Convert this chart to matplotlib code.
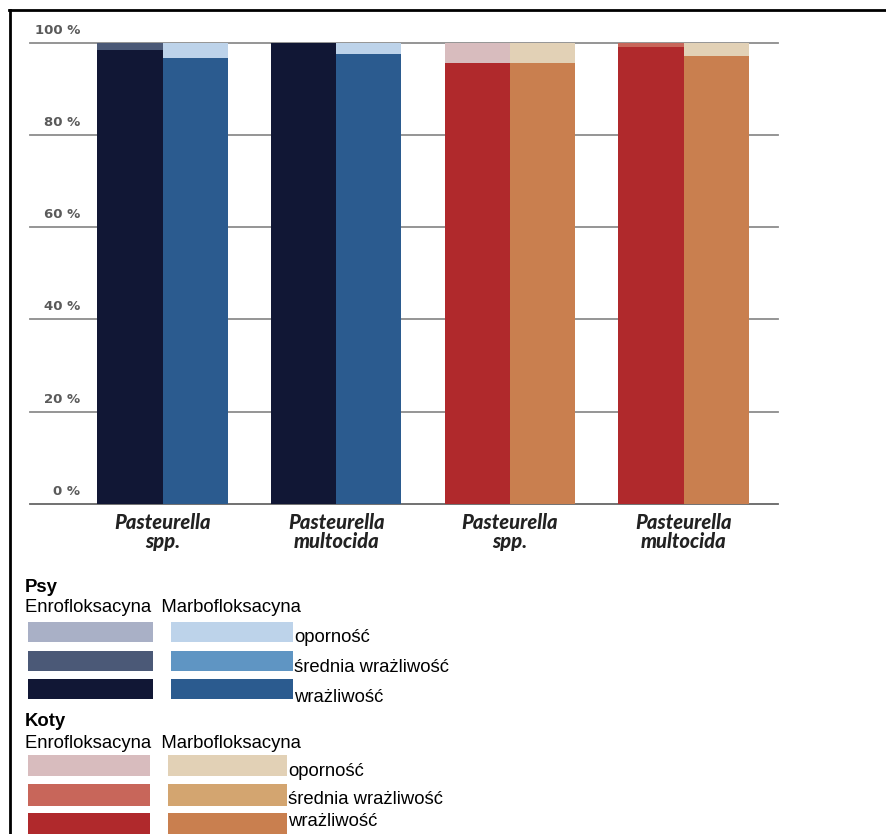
import matplotlib
matplotlib.use("Agg")
import matplotlib.pyplot as plt
from matplotlib.patches import Rectangle
from matplotlib.lines import Line2D

W, H = 887, 834

# --- data -------------------------------------------------------------
groups = ["Pasteurella\nspp.", "Pasteurella\nmultocida",
          "Pasteurella\nspp.", "Pasteurella\nmultocida"]
group_species = ["Psy", "Psy", "Koty", "Koty"]

drugs = ["Enrofloksacyna", "Marbofloksacyna"]
categories = ["oporność", "średnia wrażliwość", "wrażliwość"]

# share of isolates (%) per group
enro_susceptible = [98.4, 100.0, 95.6, 99.0]
enro_intermediate = [1.6, 0.0, 0.0, 1.0]
enro_resistant = [0.0, 0.0, 4.4, 0.0]

marbo_susceptible = [96.6, 97.5, 95.6, 97.0]
marbo_intermediate = [0.0, 0.0, 0.0, 0.0]
marbo_resistant = [3.4, 2.5, 4.4, 3.0]

yticks = [0, 20, 40, 60, 80, 100]

# colours: species -> drug -> (resistant, intermediate, susceptible)
palette = {
    "Psy": {
        "Enrofloksacyna": ["#a9b0c6", "#4b5977", "#111735"],
        "Marbofloksacyna": ["#bdd3ea", "#5f95c3", "#2b5b8f"],
    },
    "Koty": {
        "Enrofloksacyna": ["#d8bcbe", "#c8665a", "#b0292c"],
        "Marbofloksacyna": ["#e2d1b6", "#d3a570", "#c97f4f"],
    },
}

values = {
    "Enrofloksacyna": (enro_resistant, enro_intermediate, enro_susceptible),
    "Marbofloksacyna": (marbo_resistant, marbo_intermediate, marbo_susceptible),
}

# --- figure -----------------------------------------------------------
fig = plt.figure(figsize=(W / 100, H / 100), dpi=100)


def fx(px):
    return px / W


def fy(py):
    return 1 - py / H


ax = fig.add_axes([fx(30), fy(504), fx(778) - fx(30), fy(42.5) - fy(504)])
ax.set_xlim(-0.763, 3.544)
ax.set_ylim(0, 100)
ax.axis("off")

bar_w = 0.375
for gi, sp in enumerate(group_species):
    for di, drug in enumerate(drugs):
        x = gi + (di - 0.5) * bar_w
        res, inter, susc = values[drug]
        cols = palette[sp][drug]
        bottom = 0.0
        for val, col in ((susc[gi], cols[2]), (inter[gi], cols[1]), (res[gi], cols[0])):
            if val > 0:
                ax.bar(x, val, bottom=bottom, width=bar_w, color=col,
                       edgecolor="none", zorder=2)
            bottom += val

# grid lines and tick labels
for v in yticks:
    ax.axhline(v, color="#666666" if v == 0 else "#8c8c8c",
               lw=1.3, zorder=1, clip_on=False)
    ax.annotate(f"{v} %", xy=(fx(80), v),
                xycoords=(fig.transFigure, ax.transData),
                xytext=(0, 9), textcoords="offset points",
                ha="right", va="center", fontsize=9.5, fontweight="bold",
                color="#5a5a5a", family="DejaVu Sans")

# group labels
for gi, lab in enumerate(groups):
    ax.annotate(lab, xy=(gi, fy(532)),
                xycoords=(ax.transData, fig.transFigure),
                ha="center", va="center", fontsize=14.5, fontweight="black",
                style="italic", family=["Lato", "DejaVu Sans"],
                color="#222222", linespacing=1.0)

# --- legend block -----------------------------------------------------
txt_font = dict(family=["Liberation Sans", "DejaVu Sans"], color="black")
fs = 13.3


def swatch(x0, x1, y0, y1, col):
    fig.patches.append(Rectangle((fx(x0), fy(y1)), fx(x1) - fx(x0),
                                 fy(y0) - fy(y1), transform=fig.transFigure,
                                 facecolor=col, edgecolor="none"))


blocks = [
    ("Psy", 587, 608, [(622, 642, 638), (651, 671, 668), (679, 699, 697)],
     (28, 153), (171, 293)),
    ("Koty", 722, 743, [(755, 776, 771), (784, 806, 800), (813, 834, 822)],
     (28, 150), (168, 287)),
]

for sp, y_title, y_drugs, rows, ex, mx in blocks:
    fig.text(fx(25), fy(y_title), sp, fontsize=fs, fontweight="bold",
             va="center", ha="left", **txt_font)
    fig.text(fx(25), fy(y_drugs), f"{drugs[0]}  {drugs[1]}", fontsize=fs,
             va="center", ha="left", **txt_font)
    for ri, (y0, y1, yt) in enumerate(rows):
        swatch(ex[0], ex[1], y0, y1, palette[sp][drugs[0]][ri])
        swatch(mx[0], mx[1], y0, y1, palette[sp][drugs[1]][ri])
        fig.text(fx(mx[1] + 1), fy(yt), categories[ri], fontsize=fs,
                 va="center", ha="left", **txt_font)

# outer frame (top and left edges)
fig.lines.append(Line2D([fx(9), fx(887)], [fy(10), fy(10)],
                        transform=fig.transFigure, color="black", lw=2))
fig.lines.append(Line2D([fx(10), fx(10)], [fy(10), fy(834)],
                        transform=fig.transFigure, color="black", lw=2))

fig.savefig("out.png", dpi=100, facecolor="white")
